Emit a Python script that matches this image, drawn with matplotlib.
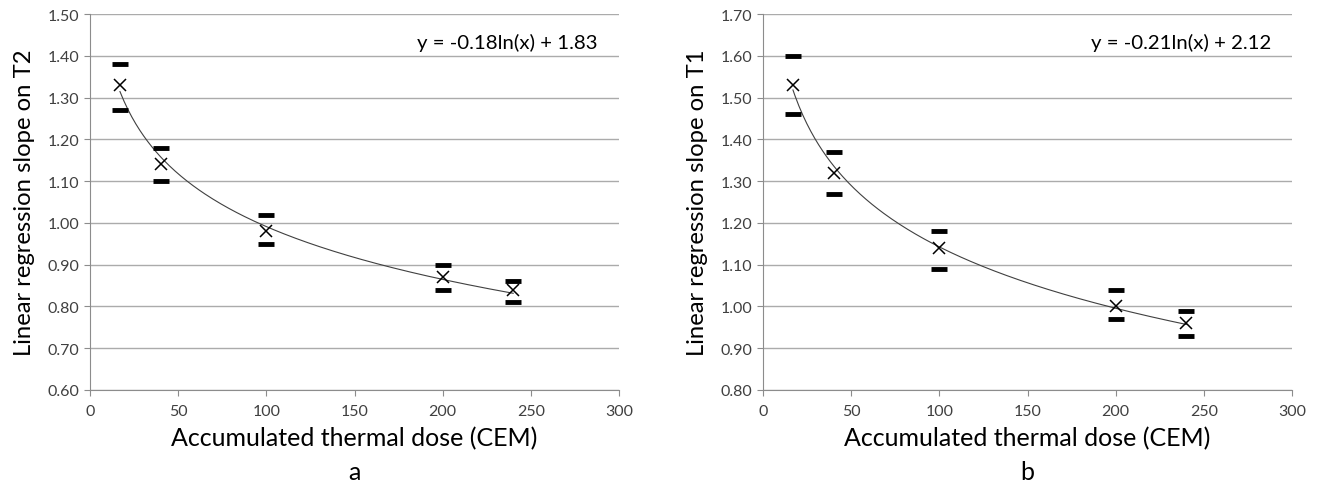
#!/usr/bin/env python3
"""
Slope of T2 / T1 regression against accumulated thermal dose, two panels
"""

import numpy as np
import matplotlib
matplotlib.use('Agg')
import matplotlib.pyplot as plt

plt.rcParams['font.family'] = ['Lato', 'DejaVu Sans']

dose = [17, 40, 100, 200, 240]

# panel a: T2
t2_mean = [1.33, 1.14, 0.98, 0.87, 0.84]
t2_upper = [1.38, 1.18, 1.02, 0.90, 0.86]
t2_lower = [1.27, 1.10, 0.95, 0.84, 0.81]
t2_eq = 'y = -0.18ln(x) + 1.83'
t2_yticks = [0.60, 0.70, 0.80, 0.90, 1.00, 1.10, 1.20, 1.30, 1.40, 1.50]

# panel b: T1
t1_mean = [1.53, 1.32, 1.14, 1.00, 0.96]
t1_upper = [1.60, 1.37, 1.18, 1.04, 0.99]
t1_lower = [1.46, 1.27, 1.09, 0.97, 0.93]
t1_eq = 'y = -0.21ln(x) + 2.12'
t1_yticks = [0.80, 0.90, 1.00, 1.10, 1.20, 1.30, 1.40, 1.50, 1.60, 1.70]

xticks = [0, 50, 100, 150, 200, 250, 300]

W, H = 1323, 485
fig = plt.figure(figsize=(W / 100, H / 100), dpi=100)

def panel(left, mean, upper, lower, eq, yticks, ylabel, letter):
    ax = fig.add_axes([left / W, (H - 391) / H, 529 / W, 376 / H])
    ax.set_xlim(0, 300)
    ax.set_ylim(yticks[0], yticks[-1])
    ax.set_xticks(xticks)
    ax.set_yticks(yticks)
    ax.set_yticklabels(['%.2f' % v for v in yticks])
    ax.grid(axis='y', color='#ababab', lw=1.0)
    ax.set_axisbelow(True)
    for s in ['top', 'right']:
        ax.spines[s].set_visible(False)
    for s in ['left', 'bottom']:
        ax.spines[s].set_color('#8c8c8c')
    ax.tick_params(colors='#8c8c8c', labelcolor='#404040', labelsize=11.5,
                   length=4, direction='out')
    ax.tick_params(axis='x', pad=6)

    # log trend line fitted to the means
    a, b = np.polyfit(np.log(dose), mean, 1)
    xs = np.linspace(dose[0], dose[-1], 200)
    ax.plot(xs, a * np.log(xs) + b, color='#404040', lw=0.8)

    ax.plot(dose, upper, ls='none', marker='_', ms=11, mew=3.5, color='black')
    ax.plot(dose, lower, ls='none', marker='_', ms=11, mew=3.5, color='black')
    ax.plot(dose, mean, ls='none', marker='x', ms=9, mew=1.1, color='black')

    ax.text(0.96, 0.926, eq, transform=ax.transAxes,
            ha='right', va='center', fontsize=14.7, color='black')
    ax.set_xlabel('Accumulated thermal dose (CEM)', fontsize=18,
                  color='black', labelpad=6)
    ax.set_ylabel(ylabel, fontsize=17.2, color='black', labelpad=9)
    ax.text(0.5, -0.237, letter, transform=ax.transAxes, ha='center',
            va='baseline', fontsize=18)
    return ax

panel(90, t2_mean, t2_upper, t2_lower, t2_eq, t2_yticks,
      'Linear regression slope on T2', 'a')
panel(763, t1_mean, t1_upper, t1_lower, t1_eq, t1_yticks,
      'Linear regression slope on T1', 'b')

fig.savefig('out.png', dpi=100)
